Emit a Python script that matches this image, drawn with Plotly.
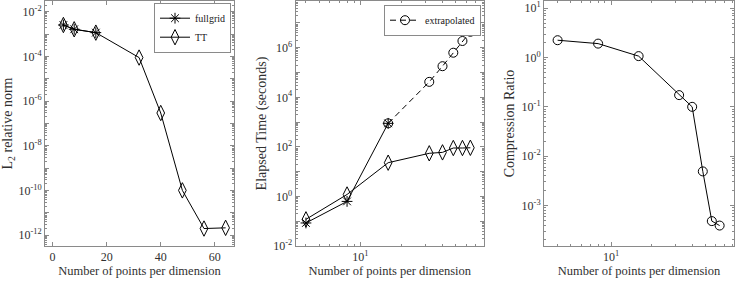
import plotly.graph_objects as go

# ---------------- data ----------------
N = [4, 8, 16, 32, 40, 48, 56, 64]
N_full = [4, 8, 16]
N_extrap = [16, 32, 40, 48, 56, 64]

err_full = [2.55e-3, 1.64e-3, 1.16e-3]
err_tt = [2.55e-3, 1.64e-3, 1.16e-3, 8.9e-5, 2.95e-7, 1.02e-10, 2.0e-12, 2.15e-12]

time_full = [0.085, 0.63, 890]
time_tt = [0.119, 1.2, 23, 55, 60, 90, 90, 92]
time_extrap = [890, 4.2e4, 1.8e5, 6.3e5, 1.87e6, 4.4e6]

ratio_tt = [2.25, 1.92, 1.07, 0.173, 0.100, 0.0049, 4.8e-4, 3.9e-4]

x_ticks_lin = [0, 20, 40, 60]
y1_exps = list(range(-12, -1))       # decades on the left panel
y2_exps = list(range(-2, 8))         # decades on the middle panel
y3_exps = list(range(-3, 2))         # decades on the right panel

# ---------------- style ----------------
W, H = 735, 283
FONT = "Liberation Serif"
AXC = "#8a8a8a"
TXT = "#303030"


def sup(e):
    return "10<sup>%d</sup>" % e


def minor_vals(lo, hi):
    return [m * 10 ** e for e in range(lo, hi) for m in range(2, 10)]


def title(text, standoff, size):
    return dict(text=text, standoff=standoff, font=dict(family=FONT, size=size, color=TXT))


def base_axis(**kw):
    d = dict(showline=True, linecolor=AXC, linewidth=1, mirror="ticks",
             ticks="inside", ticklen=4, tickcolor=AXC, tickwidth=1,
             showgrid=False, zeroline=False, automargin=False,
             tickfont=dict(family=FONT, size=12, color=TXT))
    d.update(kw)
    return d


fig = go.Figure()

line = dict(color="black", width=1)
mk_line = dict(color="black", width=1)

# left panel
fig.add_trace(go.Scatter(x=N_full, y=err_full, mode="lines+markers", name="fullgrid",
                         line=line, marker=dict(symbol="asterisk-open", size=9, line=mk_line),
                         xaxis="x", yaxis="y", legend="legend"))
fig.add_trace(go.Scatter(x=N, y=err_tt, mode="lines+markers", name="TT",
                         line=line, marker=dict(symbol="diamond-tall-open", size=11, color="black",
                                                line=mk_line),
                         xaxis="x", yaxis="y", legend="legend"))

# middle panel
fig.add_trace(go.Scatter(x=N_extrap, y=time_extrap, mode="lines+markers", name="extrapolated",
                         line=dict(color="black", width=1, dash="6px,4px"),
                         marker=dict(symbol="circle-open", size=9, color="black", line=mk_line),
                         xaxis="x2", yaxis="y2", legend="legend2"))
fig.add_trace(go.Scatter(x=N_full, y=time_full, mode="lines+markers", name="fullgrid",
                         line=line, marker=dict(symbol="asterisk-open", size=9, line=mk_line),
                         xaxis="x2", yaxis="y2", showlegend=False))
fig.add_trace(go.Scatter(x=N, y=time_tt, mode="lines+markers", name="TT",
                         line=line, marker=dict(symbol="diamond-tall-open", size=11, color="black",
                                                line=mk_line),
                         xaxis="x2", yaxis="y2", showlegend=False))

# right panel
fig.add_trace(go.Scatter(x=N, y=ratio_tt, mode="lines+markers", name="TT",
                         line=line, marker=dict(symbol="circle-open", size=9, color="black",
                                                line=mk_line),
                         xaxis="x3", yaxis="y3", showlegend=False))

xlog_minor = [4, 5, 6, 7, 8, 9, 20, 30, 40, 50, 60, 70, 80]
XT = 12.5
YT = 14

fig.update_layout(
    template="none",
    width=W, height=H,
    margin=dict(l=0, r=0, t=1, b=37),
    paper_bgcolor="white", plot_bgcolor="white",
    font=dict(family=FONT, size=11, color=TXT),
    xaxis=base_axis(domain=[45 / W, 234 / W], range=[-2.8, 67.1],
                    tickvals=x_ticks_lin, anchor="y",
                    title=title("Number of points per dimension", 2, XT)),
    yaxis=base_axis(type="log", range=[-12.48, -1.52], anchor="x",
                    tickvals=[10 ** e for e in y1_exps],
                    ticktext=[sup(e) if e % 2 == 0 else "" for e in y1_exps],
                    minor=dict(tickvals=minor_vals(-13, -1), ticks="inside", ticklen=2, tickcolor=AXC),
                    title=title("L<sub>2</sub> relative norm", 3, YT)),
    xaxis2=base_axis(type="log", domain=[295.7 / W, 484 / W], range=[0.527, 1.906],
                     tickvals=[10], ticktext=[sup(1)], anchor="y2",
                     minor=dict(tickvals=xlog_minor, ticks="inside", ticklen=2, tickcolor=AXC),
                     title=title("Number of points per dimension", 2, XT)),
    yaxis2=base_axis(type="log", range=[-2, 7.886], anchor="x2",
                     tickvals=[10 ** e for e in y2_exps],
                     ticktext=[sup(e) if e % 2 == 0 else "" for e in y2_exps],
                     minor=dict(tickvals=minor_vals(-2, 8), ticks="inside", ticklen=2, tickcolor=AXC),
                     title=title("Elapsed Time (seconds)", 3, YT)),
    xaxis3=base_axis(type="log", domain=[544 / W, 734 / W], range=[0.501, 1.913],
                     tickvals=[10], ticktext=[sup(1)], anchor="y3",
                     minor=dict(tickvals=xlog_minor, ticks="inside", ticklen=2, tickcolor=AXC),
                     title=title("Number of points per dimension", 2, XT)),
    yaxis3=base_axis(type="log", range=[-3.824, 1.148], anchor="x3",
                     tickvals=[10 ** e for e in y3_exps],
                     ticktext=[sup(e) for e in y3_exps],
                     minor=dict(tickvals=minor_vals(-4, 2), ticks="inside", ticklen=2, tickcolor=AXC),
                     title=title("Compression Ratio", 3, YT)),
    legend=dict(x=231 / W, y=(246 - 2.7) / 245, xanchor="right", yanchor="top",
                bgcolor="white", bordercolor=AXC, borderwidth=1,
                font=dict(family=FONT, size=10, color="#202020"), itemwidth=30,
                tracegroupgap=0),
    legend2=dict(x=481 / W, y=(246 - 4.7) / 245, xanchor="right", yanchor="top",
                 bgcolor="white", bordercolor=AXC, borderwidth=1,
                 font=dict(family=FONT, size=10, color="#202020"), itemwidth=30),
    showlegend=True,
)

fig.write_html("out.html", config={"displayModeBar": False},
               post_script="document.body.style.margin='0px';document.body.style.overflow='hidden';")
